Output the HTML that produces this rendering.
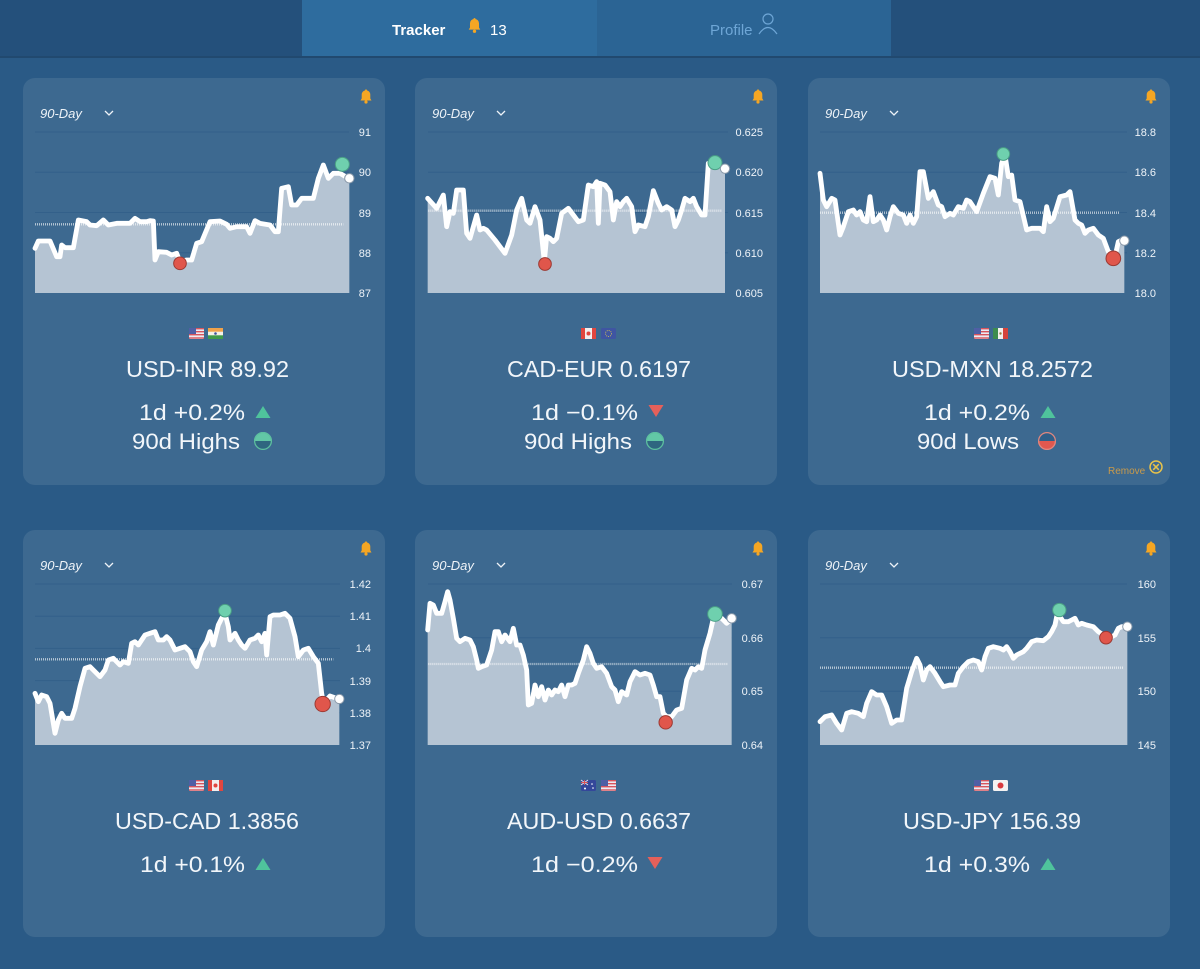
<!DOCTYPE html>
<html>
<head>
<meta charset="utf-8">
<style>
  html, body { margin:0; padding:0; background:#2a5a86; }
  svg { display:block; font-family:"Liberation Sans", Arial, sans-serif; }
  .tick { font-size:11px; fill:#eef3f8; text-anchor:end; }
  .period { font-size:13px; font-style:italic; fill:#eef3f8; }
  .title { font-size:23.5px; fill:#f2f6fa; text-anchor:middle; }
  .stat { font-size:22.5px; fill:#f2f6fa; }
  .grid { stroke:#33608a; stroke-width:1; }
  .fill { fill:#b5c4d3; }
  .line { fill:none; stroke:#ffffff; stroke-width:14.5; stroke-linejoin:round; stroke-linecap:round; }
  .avg { stroke:rgba(255,255,255,0.62); stroke-width:7; stroke-dasharray:3 3; }
  .gdot { fill:#6fd0ae; stroke:#4a9e85; stroke-width:3; }
  .rdot { fill:#e0564b; stroke:#9c3a33; stroke-width:3; }
  .wdot { fill:#ffffff; stroke:#8b9aaa; stroke-width:3; }
</style>
</head>
<body>
<svg width="1200" height="969" viewBox="0 0 1200 969" xmlns="http://www.w3.org/2000/svg">
  <defs>
    <g id="bell">
      <path d="M-5.5 3.5 L5.5 3.5 L4.3 1.5 L4.3 -2.5 A4.3 4.3 0 0 0 -4.3 -2.5 L-4.3 1.5 Z" fill="#f5a623"/>
      <circle cx="0" cy="5" r="1.6" fill="#f5a623"/>
      <circle cx="0" cy="-6.6" r="1" fill="#f5a623"/>
    </g>
    <g id="chev">
      <path d="M-4 -2 L0 2 L4 -2" fill="none" stroke="#eef3f8" stroke-width="1.3"/>
    </g>
    <g id="up"><path d="M-7.5 6 L0 -6 L7.5 6 Z" fill="#4fc39c"/></g>
    <g id="down"><path d="M-7.5 -6 L0 6 L7.5 -6 Z" fill="#e5605a"/></g>
    <g id="highs">
      <path d="M-9 0 A9 9 0 0 1 9 0 Z" fill="#62c7a6"/>
      <path d="M-9 0 A9 9 0 0 0 9 0 Z" fill="#2f6680"/>
      <circle r="8.4" fill="none" stroke="#5dbf9f" stroke-width="1.3"/>
    </g>
    <g id="lows">
      <path d="M-9 0 A9 9 0 0 1 9 0 Z" fill="#2f5f88"/>
      <path d="M-9 0 A9 9 0 0 0 9 0 Z" fill="#e0584f"/>
      <circle r="8.4" fill="none" stroke="#e0877f" stroke-width="1.3"/>
    </g>
    <g id="fUS">
      <rect width="15" height="11" rx="1.5" fill="#ecebf2"/>
      <rect y="0" width="15" height="1.4" fill="#d8545c"/>
      <rect y="3" width="15" height="1.4" fill="#d8545c"/>
      <rect y="6" width="15" height="1.4" fill="#d8545c"/>
      <rect y="9.3" width="15" height="1.4" fill="#d8545c"/>
      <rect width="7" height="6" fill="#4f5fa5"/>
    </g>
    <g id="fIN">
      <rect width="15" height="11" rx="1.5" fill="#f3f1e8"/>
      <rect width="15" height="3.7" fill="#f0a24a"/>
      <rect y="7.3" width="15" height="3.7" fill="#3f9a4a"/>
      <circle cx="7.5" cy="5.5" r="1.3" fill="#3a4f9a"/>
    </g>
    <g id="fCA">
      <rect width="15" height="11" rx="1.5" fill="#f2eeee"/>
      <rect width="4" height="11" fill="#e0463f"/>
      <rect x="11" width="4" height="11" fill="#e0463f"/>
      <circle cx="7.5" cy="5.5" r="2" fill="#e0463f"/>
    </g>
    <g id="fEU">
      <rect width="15" height="11" rx="1.5" fill="#3f55a2"/>
      <circle cx="7.5" cy="5.5" r="3" fill="none" stroke="#c9b85a" stroke-width="0.9" stroke-dasharray="1 1"/>
    </g>
    <g id="fMX">
      <rect width="15" height="11" rx="1.5" fill="#f2f0ec"/>
      <rect width="5" height="11" fill="#3c8c4e"/>
      <rect x="10" width="5" height="11" fill="#d4443c"/>
      <circle cx="7.5" cy="5.5" r="1.2" fill="#9a7a3a"/>
    </g>
    <g id="fAU">
      <rect width="15" height="11" rx="1.5" fill="#34479a"/>
      <path d="M0 0 L7 5 M7 0 L0 5" stroke="#e6dfe5" stroke-width="1"/>
      <path d="M3.5 0 V5 M0 2.5 H7" stroke="#d6545a" stroke-width="1"/>
      <circle cx="4" cy="8.5" r="1" fill="#fff"/>
      <circle cx="11" cy="4" r="0.8" fill="#fff"/>
      <circle cx="12" cy="8" r="0.8" fill="#fff"/>
    </g>
    <g id="fJP">
      <rect width="15" height="11" rx="1.5" fill="#f4f2f2"/>
      <circle cx="7.5" cy="5.5" r="3" fill="#d83a3f"/>
    </g>
  </defs>

  <!-- Header -->
  <rect x="0" y="0" width="1200" height="57" fill="#24507b"/>
  <rect x="0" y="56" width="1200" height="2" fill="#21496f"/>
  <rect x="302" y="0" width="295" height="56" fill="#2e6c9e"/>
  <rect x="597" y="0" width="294" height="56" fill="#2b6494"/>
  <text x="392" y="35" font-size="15" font-weight="bold" fill="#ffffff">Tracker</text>
  <use href="#bell" transform="translate(474.5,26) scale(1.05)"/>
  <text x="490" y="35" font-size="15" fill="#ffffff">13</text>
  <text x="710" y="35" font-size="15" fill="#6ea6d6">Profile</text>
  <circle cx="768" cy="19" r="5" fill="none" stroke="#6ea6d6" stroke-width="1.2"/>
  <path d="M759 34 Q768 21 777 34" fill="none" stroke="#6ea6d6" stroke-width="1.2"/>

  <!-- Cards -->
  <rect x="23" y="78" width="362" height="407" rx="12" fill="#3d6990"/>
  <rect x="415" y="78" width="362" height="407" rx="12" fill="#3d6990"/>
  <rect x="808" y="78" width="362" height="407" rx="12" fill="#3d6990"/>
  <rect x="23" y="530" width="362" height="407" rx="12" fill="#3d6990"/>
  <rect x="415" y="530" width="362" height="407" rx="12" fill="#3d6990"/>
  <rect x="808" y="530" width="362" height="407" rx="12" fill="#3d6990"/>

  <!-- Card headers (period, chevron, bell) -->
  <text class="period" x="40" y="118">90-Day</text><use href="#chev" transform="translate(109,113)"/><use href="#bell" transform="translate(366,97)"/>
  <text class="period" x="432" y="118">90-Day</text><use href="#chev" transform="translate(501,113)"/><use href="#bell" transform="translate(758,97)"/>
  <text class="period" x="825" y="118">90-Day</text><use href="#chev" transform="translate(894,113)"/><use href="#bell" transform="translate(1151,97)"/>
  <text class="period" x="40" y="570">90-Day</text><use href="#chev" transform="translate(109,565)"/><use href="#bell" transform="translate(366,549)"/>
  <text class="period" x="432" y="570">90-Day</text><use href="#chev" transform="translate(501,565)"/><use href="#bell" transform="translate(758,549)"/>
  <text class="period" x="825" y="570">90-Day</text><use href="#chev" transform="translate(894,565)"/><use href="#bell" transform="translate(1151,549)"/>

  <!-- Grid lines -->
  <g class="grid">
    <line x1="35" x2="349" y1="132" y2="132"/><line x1="35" x2="349" y1="172.25" y2="172.25"/><line x1="35" x2="349" y1="212.5" y2="212.5"/><line x1="35" x2="349" y1="252.75" y2="252.75"/>
    <line x1="428" x2="728" y1="132" y2="132"/><line x1="428" x2="728" y1="172.25" y2="172.25"/><line x1="428" x2="728" y1="212.5" y2="212.5"/><line x1="428" x2="728" y1="252.75" y2="252.75"/>
    <line x1="820" x2="1127" y1="132" y2="132"/><line x1="820" x2="1127" y1="172.25" y2="172.25"/><line x1="820" x2="1127" y1="212.5" y2="212.5"/><line x1="820" x2="1127" y1="252.75" y2="252.75"/>
    <line x1="35" x2="340" y1="584" y2="584"/><line x1="35" x2="340" y1="616.2" y2="616.2"/><line x1="35" x2="340" y1="648.4" y2="648.4"/><line x1="35" x2="340" y1="680.6" y2="680.6"/><line x1="35" x2="340" y1="712.8" y2="712.8"/>
    <line x1="428" x2="732" y1="584" y2="584"/><line x1="428" x2="732" y1="637.7" y2="637.7"/><line x1="428" x2="732" y1="691.3" y2="691.3"/>
    <line x1="820" x2="1127" y1="584" y2="584"/><line x1="820" x2="1127" y1="637.7" y2="637.7"/><line x1="820" x2="1127" y1="691.3" y2="691.3"/>
  </g>

  <!-- Tick labels -->
  <text class="tick" x="371" y="136">91</text><text class="tick" x="371" y="176">90</text><text class="tick" x="371" y="217">89</text><text class="tick" x="371" y="257">88</text><text class="tick" x="371" y="297">87</text>
  <text class="tick" x="763" y="136">0.625</text><text class="tick" x="763" y="176">0.620</text><text class="tick" x="763" y="217">0.615</text><text class="tick" x="763" y="257">0.610</text><text class="tick" x="763" y="297">0.605</text>
  <text class="tick" x="1156" y="136">18.8</text><text class="tick" x="1156" y="176">18.6</text><text class="tick" x="1156" y="217">18.4</text><text class="tick" x="1156" y="257">18.2</text><text class="tick" x="1156" y="297">18.0</text>
  <text class="tick" x="371" y="588">1.42</text><text class="tick" x="371" y="620">1.41</text><text class="tick" x="371" y="652">1.4</text><text class="tick" x="371" y="685">1.39</text><text class="tick" x="371" y="717">1.38</text><text class="tick" x="371" y="749">1.37</text>
  <text class="tick" x="763" y="588">0.67</text><text class="tick" x="763" y="642">0.66</text><text class="tick" x="763" y="695">0.65</text><text class="tick" x="763" y="749">0.64</text>
  <text class="tick" x="1156" y="588">160</text><text class="tick" x="1156" y="642">155</text><text class="tick" x="1156" y="695">150</text><text class="tick" x="1156" y="749">145</text>

  <!-- Chart 1: USD-INR -->
  <g transform="translate(20,75) scale(0.333333)">
    <polygon class="fill" points="45,654 45,520 55,498 90,498 110,545 120,545 125,510 135,518 160,518 175,435 200,440 210,450 230,452 250,435 265,450 290,445 330,445 345,430 360,440 380,440 390,437 400,438 405,555 415,530 440,532 455,540 470,535 480,560 500,555 515,555 530,505 545,500 570,440 600,438 620,448 630,460 650,455 680,455 690,475 705,437 720,445 750,450 765,470 775,470 785,340 805,335 815,390 830,390 845,370 880,370 895,310 910,270 925,310 940,295 960,295 988,310 988,654"/>
    <line class="avg" x1="45" x2="970" y1="448" y2="448"/>
    <polyline class="line" points="45,520 55,498 90,498 110,545 120,545 125,510 135,518 160,518 175,435 200,440 210,450 230,452 250,435 265,450 290,445 330,445 345,430 360,440 380,440 390,437 400,438 405,555 415,530 440,532 455,540 470,535 480,560 500,555 515,555 530,505 545,500 570,440 600,438 620,448 630,460 650,455 680,455 690,475 705,437 720,445 750,450 765,470 775,470 785,340 805,335 815,390 830,390 845,370 880,370 895,310 910,270 925,310 940,295 960,295 985,310"/>
    <circle class="rdot" cx="480" cy="565" r="19"/>
    <circle class="gdot" cx="967" cy="268" r="21"/>
    <circle class="wdot" cx="988" cy="310" r="14"/>
  </g>

  <!-- Chart 2: CAD-EUR -->
  <g transform="translate(415,120) scale(0.333333)">
    <polygon class="fill" points="38,519 38,235 65,265 85,225 95,320 105,275 115,280 125,210 145,210 155,340 165,355 185,285 195,330 205,325 215,330 240,360 270,400 290,345 305,270 320,235 335,300 345,310 360,260 375,300 388,425 395,350 405,355 415,365 425,355 440,280 460,265 475,285 490,305 505,300 520,195 535,200 545,185 550,310 555,190 570,195 585,215 595,300 605,245 615,260 625,245 635,235 650,260 660,335 670,315 690,320 700,290 715,212 730,250 740,270 755,260 770,270 780,320 790,300 800,270 810,235 825,245 835,235 845,260 860,285 870,285 880,130 895,125 905,135 930,145 930,519"/>
    <line class="avg" x1="40" x2="920" y1="272" y2="272"/>
    <polyline class="line" points="38,235 65,265 85,225 95,320 105,275 115,280 125,210 145,210 155,340 165,355 185,285 195,330 205,325 215,330 240,360 270,400 290,345 305,270 320,235 335,300 345,310 360,260 375,300 388,425 395,350 405,355 415,365 425,355 440,280 460,265 475,285 490,305 505,300 520,195 535,200 545,185 550,310 555,190 570,195 585,215 595,300 605,245 615,260 625,245 635,235 650,260 660,335 670,315 690,320 700,290 715,212 730,250 740,270 755,260 770,270 780,320 790,300 800,270 810,235 825,245 835,235 845,260 860,285 870,285 880,130 895,125 905,135 930,145"/>
    <circle class="rdot" cx="390" cy="432" r="19"/>
    <circle class="gdot" cx="900" cy="128" r="21"/>
    <circle class="wdot" cx="930" cy="146" r="14"/>
  </g>

  <!-- Chart 3: USD-MXN -->
  <g transform="translate(810,120) scale(0.333333)">
    <polygon class="fill" points="30,519 30,160 40,240 50,260 65,235 75,240 90,345 100,320 115,275 130,270 140,285 150,275 160,300 170,305 180,230 190,305 200,300 210,285 220,300 230,330 240,290 250,260 265,280 280,285 290,310 300,285 310,310 320,290 330,155 340,155 355,235 370,215 385,255 395,260 405,290 420,280 430,285 445,260 460,265 470,240 480,245 500,275 520,220 540,170 555,175 565,225 575,130 585,105 595,170 605,165 615,240 630,245 650,330 665,325 690,325 700,335 710,260 720,305 730,295 750,230 770,225 780,215 795,300 805,310 815,315 825,340 835,330 850,325 865,345 880,355 895,395 905,400 915,410 925,365 935,360 943,362 943,519"/>
    <line class="avg" x1="30" x2="930" y1="278" y2="278"/>
    <polyline class="line" points="30,160 40,240 50,260 65,235 75,240 90,345 100,320 115,275 130,270 140,285 150,275 160,300 170,305 180,230 190,305 200,300 210,285 220,300 230,330 240,290 250,260 265,280 280,285 290,310 300,285 310,310 320,290 330,155 340,155 355,235 370,215 385,255 395,260 405,290 420,280 430,285 445,260 460,265 470,240 480,245 500,275 520,220 540,170 555,175 565,225 575,130 585,105 595,170 605,165 615,240 630,245 650,330 665,325 690,325 700,335 710,260 720,305 730,295 750,230 770,225 780,215 795,300 805,310 815,315 825,340 835,330 850,325 865,345 880,355 895,395 905,400 915,410 925,365 935,360 943,362"/>
    <circle class="gdot" cx="580" cy="102" r="19"/>
    <circle class="rdot" cx="910" cy="415" r="22"/>
    <circle class="wdot" cx="943" cy="362" r="14"/>
  </g>

  <!-- Chart 4: USD-CAD -->
  <g transform="translate(20,570) scale(0.333333)">
    <polygon class="fill" points="45,525 45,370 55,395 65,375 80,380 90,400 105,490 115,450 125,430 135,445 155,445 165,415 180,350 195,295 210,290 225,305 240,320 255,300 265,270 280,265 290,275 300,285 310,275 325,280 335,220 345,215 355,225 365,210 375,195 390,190 405,185 415,210 430,210 440,200 450,210 465,240 480,235 495,230 510,245 520,275 530,290 545,240 560,215 570,185 580,225 595,165 605,145 615,130 625,170 630,210 645,190 655,210 665,225 675,235 690,210 705,205 715,195 725,215 735,190 740,255 750,140 760,135 780,135 795,130 810,145 825,200 835,260 850,240 865,235 880,260 895,280 905,370 910,400 930,378 958,388 958,525"/>
    <line class="avg" x1="45" x2="940" y1="268" y2="268"/>
    <polyline class="line" points="45,370 55,395 65,375 80,380 90,400 105,490 115,450 125,430 135,445 155,445 165,415 180,350 195,295 210,290 225,305 240,320 255,300 265,270 280,265 290,275 300,285 310,275 325,280 335,220 345,215 355,225 365,210 375,195 390,190 405,185 415,210 430,210 440,200 450,210 465,240 480,235 495,230 510,245 520,275 530,290 545,240 560,215 570,185 580,225 595,165 605,145 615,130 625,170 630,210 645,190 655,210 665,225 675,235 690,210 705,205 715,195 725,215 735,190 740,255 750,140 760,135 780,135 795,130 810,145 825,200 835,260 850,240 865,235 880,260 895,280 905,370 910,400 930,378 958,388"/>
    <circle class="gdot" cx="615" cy="122" r="19"/>
    <circle class="rdot" cx="908" cy="402" r="23"/>
    <circle class="wdot" cx="958" cy="387" r="14"/>
  </g>

  <!-- Chart 5: AUD-USD -->
  <g transform="translate(415,570) scale(0.333333)">
    <polygon class="fill" points="38,525 38,180 45,100 55,105 65,130 80,130 90,95 98,65 105,90 115,145 125,205 135,215 150,205 165,210 175,230 185,270 190,295 200,290 215,285 230,240 240,185 250,185 260,215 270,195 285,215 295,175 305,225 315,225 325,255 335,300 340,405 350,400 360,345 370,380 380,350 390,390 400,360 410,375 420,360 430,365 440,345 450,380 460,345 470,345 480,340 490,310 505,270 515,230 525,250 535,280 545,295 560,290 575,310 590,350 600,360 610,395 620,365 635,375 645,335 660,305 675,315 690,310 705,315 715,345 725,380 735,380 745,430 755,440 770,440 785,420 800,415 815,330 830,295 840,300 850,290 860,295 870,240 885,190 895,145 905,140 920,145 935,160 950,145 950,525"/>
    <line class="avg" x1="40" x2="940" y1="282" y2="282"/>
    <polyline class="line" points="38,180 45,100 55,105 65,130 80,130 90,95 98,65 105,90 115,145 125,205 135,215 150,205 165,210 175,230 185,270 190,295 200,290 215,285 230,240 240,185 250,185 260,215 270,195 285,215 295,175 305,225 315,225 325,255 335,300 340,405 350,400 360,345 370,380 380,350 390,390 400,360 410,375 420,360 430,365 440,345 450,380 460,345 470,345 480,340 490,310 505,270 515,230 525,250 535,280 545,295 560,290 575,310 590,350 600,360 610,395 620,365 635,375 645,335 660,305 675,315 690,310 705,315 715,345 725,380 735,380 745,430 755,440 770,440 785,420 800,415 815,330 830,295 840,300 850,290 860,295 870,240 885,190 895,145 905,140 920,145 935,160 950,145"/>
    <circle class="rdot" cx="752" cy="457" r="20"/>
    <circle class="gdot" cx="900" cy="132" r="22"/>
    <circle class="wdot" cx="950" cy="145" r="14"/>
  </g>

  <!-- Chart 6: USD-JPY -->
  <g transform="translate(810,570) scale(0.333333)">
    <polygon class="fill" points="30,525 30,455 45,440 65,435 80,460 95,480 110,430 125,425 145,430 160,440 170,400 185,365 200,375 215,375 230,410 245,460 260,450 275,450 290,355 305,305 320,265 330,285 340,330 350,300 360,290 375,310 390,335 400,350 420,345 435,345 445,310 460,290 475,275 490,270 505,275 515,300 525,260 535,235 550,230 570,235 580,240 590,230 600,245 610,265 620,255 640,245 650,235 665,215 680,210 700,212 715,200 725,185 735,165 740,140 750,140 760,155 775,155 785,150 795,145 805,165 815,160 830,165 850,170 865,185 880,195 895,200 905,200 915,195 925,175 935,170 952,170 952,525"/>
    <line class="avg" x1="30" x2="940" y1="293" y2="293"/>
    <polyline class="line" points="30,455 45,440 65,435 80,460 95,480 110,430 125,425 145,430 160,440 170,400 185,365 200,375 215,375 230,410 245,460 260,450 275,450 290,355 305,305 320,265 330,285 340,330 350,300 360,290 375,310 390,335 400,350 420,345 435,345 445,310 460,290 475,275 490,270 505,275 515,300 525,260 535,235 550,230 570,235 580,240 590,230 600,245 610,265 620,255 640,245 650,235 665,215 680,210 700,212 715,200 725,185 735,165 740,140 750,140 760,155 775,155 785,150 795,145 805,165 815,160 830,165 850,170 865,185 880,195 895,200 905,200 915,195 925,175 935,170 950,170"/>
    <circle class="gdot" cx="748" cy="120" r="20"/>
    <circle class="rdot" cx="888" cy="203" r="19"/>
    <circle class="wdot" cx="952" cy="170" r="14"/>
  </g>

  <!-- Flags -->
  <use href="#fUS" x="189" y="328"/><use href="#fIN" x="208" y="328"/>
  <use href="#fCA" x="581" y="328"/><use href="#fEU" x="601" y="328"/>
  <use href="#fUS" x="974" y="328"/><use href="#fMX" x="993" y="328"/>
  <use href="#fUS" x="189" y="780"/><use href="#fCA" x="208" y="780"/>
  <use href="#fAU" x="581" y="780"/><use href="#fUS" x="601" y="780"/>
  <use href="#fUS" x="974" y="780"/><use href="#fJP" x="993" y="780"/>

  <!-- Titles -->
  <text class="title" x="207.5" y="377" textLength="163" lengthAdjust="spacingAndGlyphs">USD-INR 89.92</text>
  <text class="title" x="599" y="377" textLength="184" lengthAdjust="spacingAndGlyphs">CAD-EUR 0.6197</text>
  <text class="title" x="992.5" y="377" textLength="201" lengthAdjust="spacingAndGlyphs">USD-MXN 18.2572</text>
  <text class="title" x="207" y="829" textLength="184" lengthAdjust="spacingAndGlyphs">USD-CAD 1.3856</text>
  <text class="title" x="599" y="829" textLength="184" lengthAdjust="spacingAndGlyphs">AUD-USD 0.6637</text>
  <text class="title" x="992" y="829" textLength="178" lengthAdjust="spacingAndGlyphs">USD-JPY 156.39</text>

  <!-- Stats row 1 -->
  <text class="stat" x="139" y="420" textLength="106" lengthAdjust="spacingAndGlyphs">1d  +0.2%</text>
  <use href="#up" transform="translate(263,412)"/>
  <text class="stat" x="132" y="449" textLength="108" lengthAdjust="spacingAndGlyphs">90d Highs</text>
  <use href="#highs" transform="translate(263,441)"/>

  <text class="stat" x="531" y="420" textLength="107" lengthAdjust="spacingAndGlyphs">1d  −0.1%</text>
  <use href="#down" transform="translate(656,411)"/>
  <text class="stat" x="524" y="449" textLength="108" lengthAdjust="spacingAndGlyphs">90d Highs</text>
  <use href="#highs" transform="translate(655,441)"/>

  <text class="stat" x="924" y="420" textLength="106" lengthAdjust="spacingAndGlyphs">1d  +0.2%</text>
  <use href="#up" transform="translate(1048,412)"/>
  <text class="stat" x="917" y="449" textLength="102" lengthAdjust="spacingAndGlyphs">90d Lows</text>
  <use href="#lows" transform="translate(1047,441)"/>

  <text x="1108" y="474" font-size="10" fill="#c99a4a">Remove</text>
  <circle cx="1156" cy="467" r="6" fill="none" stroke="#e8c24a" stroke-width="1.5"/>
  <path d="M1153.2 464.2 L1158.8 469.8 M1158.8 464.2 L1153.2 469.8" stroke="#e8c24a" stroke-width="1.5"/>

  <!-- Stats row 2 -->
  <text class="stat" x="140" y="872" textLength="105" lengthAdjust="spacingAndGlyphs">1d  +0.1%</text>
  <use href="#up" transform="translate(263,864)"/>
  <text class="stat" x="531" y="872" textLength="107" lengthAdjust="spacingAndGlyphs">1d  −0.2%</text>
  <use href="#down" transform="translate(655,863)"/>
  <text class="stat" x="924" y="872" textLength="106" lengthAdjust="spacingAndGlyphs">1d  +0.3%</text>
  <use href="#up" transform="translate(1048,864)"/>
</svg>
</body>
</html>
